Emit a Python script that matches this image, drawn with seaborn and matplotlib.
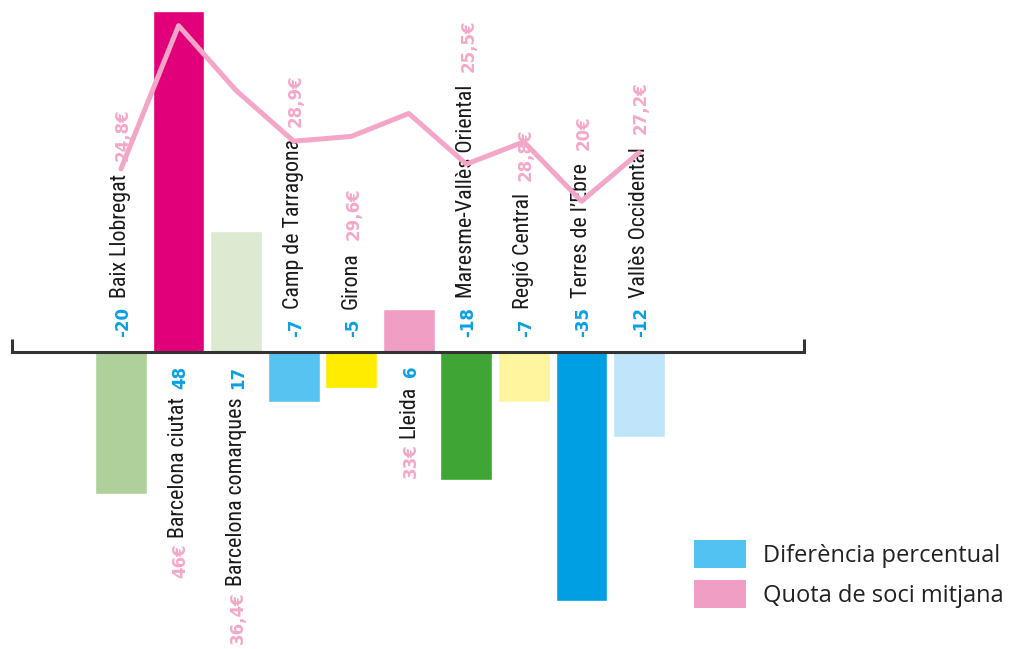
import numpy as np
import matplotlib
matplotlib.use("Agg")
import matplotlib.pyplot as plt
from matplotlib.patches import Patch
from matplotlib import font_manager as fm
from matplotlib.textpath import TextPath
import seaborn as sns

# Dades
regions = ["Baix Llobregat", "Barcelona ciutat", "Barcelona comarques",
           "Camp de Tarragona", "Girona", "Lleida",
           "Maresme-Vallès Oriental", "Regió Central", "Terres de l’Ebre",
           "Vallès Occidental"]
diferencia = [-20, 48, 17, -7, -5, 6, -18, -7, -35, -12]
quota = [24.8, 46, 36.4, 28.9, 29.6, 33, 25.5, 28.8, 20, 27.2]
colors = ["#afd09a", "#e2007a", "#dde9d1", "#57c3f1", "#ffec00",
          "#f19ec5", "#3fa535", "#fff59f", "#009fe3", "#c0e4f9"]
legend_labels = ["Diferència percentual", "Quota de soci mitjana"]
legend_colors = ["#52c2f2", "#f19ec5"]

sns.set_style("white")
plt.rcParams["font.family"] = ["Open Sans", "DejaVu Sans"]

BLUE = "#0aa0e3"
PINK = "#f5a8ca"


# font estreta per als noms (la que hi hagi)
def pick_narrow():
    prefs = ["liberation sans narrow", "roboto condensed", "noto sans",
             "open sans", "dejavu sans", "liberation sans"]
    fonts = [f for f in fm.fontManager.ttflist if f.weight in (400, "normal", "regular")
             and f.style == "normal"]
    for p in prefs:
        for f in fonts:
            n = f.name.lower()
            narrow = ("narrow" in n or "condensed" in n
                      or f.stretch in ("condensed", "semi-condensed", "extra-condensed"))
            if n.startswith(p) and narrow:
                return fm.FontProperties(fname=f.fname)
    return fm.FontProperties(family="DejaVu Sans")


name_fp = pick_narrow()
# mida ajustada perquè "Maresme-Vallès Oriental" faci uns 210 px
w = TextPath((0, 0), regions[6], size=17, prop=name_fp).get_extents().width
name_size = min(17, 17 * 210 / (w * 100 / 72))
name_fp.set_size(name_size)

val_fp = fm.FontProperties(family="DejaVu Sans", weight="bold", size=12)

fig = plt.figure(figsize=(10.13, 6.49), dpi=100)
ax = fig.add_axes([0, 0, 1, 1])

sns.barplot(x=regions, y=diferencia, hue=regions, palette=colors,
            legend=False, saturation=1, width=0.9, ax=ax, zorder=1)

ax.set_xlim(-2.102, 15.497)
ax.set_ylim(-41.83, 49.58)

# línia de quota en un eix secundari
ax2 = ax.twinx()
sns.lineplot(x=np.arange(len(regions)), y=quota, ax=ax2, color="#f4a6c8",
             linewidth=3.6, sort=False, zorder=3)
ax2.set_ylim(-46.29, 49.80)
ax2.set_axis_off()

# eix horitzontal amb els extrems
for s in ["top", "right", "left"]:
    ax.spines[s].set_visible(False)
ax.spines["bottom"].set_position(("data", 0))
ax.spines["bottom"].set_bounds(-1.895, 11.87)
ax.spines["bottom"].set_linewidth(2.2)
ax.spines["bottom"].set_color("#333333")
ax.spines["bottom"].set_zorder(4)
ax.vlines([-1.895, 11.87], 0, 1.85, color="#333333", linewidth=2.2, zorder=4)
ax.set_xticks([])
ax.set_yticks([])
ax.set_xlabel("")
ax.set_ylabel("")

# etiquetes verticals
for i, (name, d, q) in enumerate(zip(regions, diferencia, quota)):
    qtxt = f"{q:g}".replace(".", ",") + "€"
    if d < 0:
        t1 = ax.annotate(f"{d}", xy=(i, 0), xytext=(1.5, 10.5),
                         textcoords="offset points", rotation=90,
                         ha="center", va="bottom", color=BLUE,
                         fontproperties=val_fp, zorder=6)
        t2 = ax.annotate(name, xy=(i, 1), xycoords=("data", t1),
                         xytext=(0, 7), textcoords="offset points",
                         rotation=90, ha="center", va="bottom",
                         color="#1a1a1a", fontproperties=name_fp, zorder=6)
        ax.annotate(qtxt, xy=(i, 1), xycoords=("data", t2),
                    xytext=(1.5, 9), textcoords="offset points",
                    rotation=90, ha="center", va="bottom", color=PINK,
                    fontproperties=val_fp, zorder=6)
    else:
        t1 = ax.annotate(f"{d}", xy=(i, 0), xytext=(1.5, -10),
                         textcoords="offset points", rotation=90,
                         ha="center", va="top", color=BLUE,
                         fontproperties=val_fp, zorder=6)
        t2 = ax.annotate(name, xy=(i, 0), xycoords=("data", t1),
                         xytext=(0, -6), textcoords="offset points",
                         rotation=90, ha="center", va="top",
                         color="#1a1a1a", fontproperties=name_fp, zorder=6)
        ax.annotate(qtxt, xy=(i, 0), xycoords=("data", t2),
                    xytext=(1.5, -4), textcoords="offset points",
                    rotation=90, ha="center", va="top", color=PINK,
                    fontproperties=val_fp, zorder=6)

# llegenda
fs = 17
fs_px = fs * 100 / 72
handles = [Patch(facecolor=c, edgecolor="none") for c in legend_colors]
leg = ax.legend(handles, legend_labels, loc="upper left",
                bbox_to_anchor=(694 / 1013, 1 - 540 / 649),
                bbox_transform=fig.transFigure, frameon=False,
                borderpad=0, borderaxespad=0,
                handlelength=52 / fs_px, handleheight=1.448,
                handletextpad=17 / fs_px, labelspacing=0.5,
                prop={"family": "Open Sans", "size": fs})
for t in leg.get_texts():
    t.set_color("#222222")

fig.savefig("out.png", dpi=100)
